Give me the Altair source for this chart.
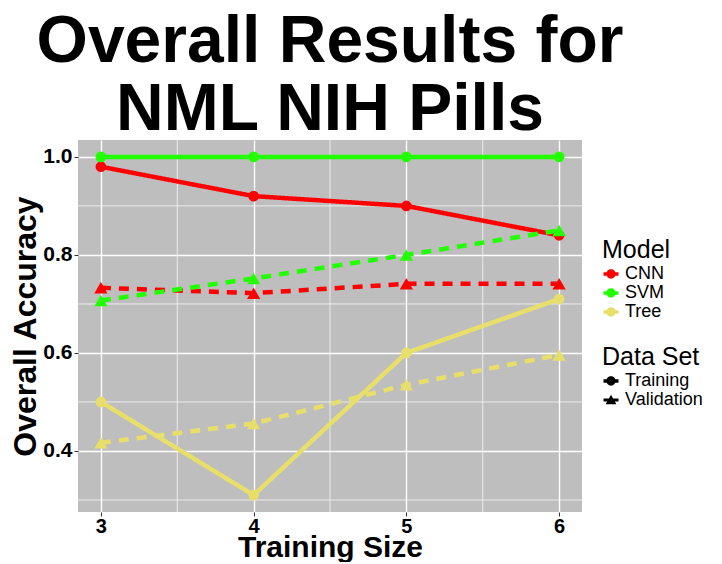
import altair as alt
import pandas as pd

sizes = [3, 4, 5, 6]
models = ["CNN", "SVM", "Tree"]
data_sets = ["Training", "Validation"]
cnn_train = [0.98, 0.92, 0.90, 0.84]
svm_train = [1.0, 1.0, 1.0, 1.0]
tree_train = [0.50, 0.31, 0.60, 0.71]
cnn_val = [0.733, 0.722, 0.741, 0.741]
svm_val = [0.707, 0.752, 0.80, 0.85]
tree_val = [0.417, 0.456, 0.535, 0.596]

x_major = [3, 4, 5, 6]
x_minor = [3.5, 4.5, 5.5]
y_major = [0.4, 0.6, 0.8, 1.0]
y_minor = [0.3, 0.5, 0.7, 0.9]

colors = ["#FF0000", "#22FF00", "#E8DF6A"]
FONT = "Liberation Sans"

series = {
    ("CNN", "Training"): cnn_train,
    ("SVM", "Training"): svm_train,
    ("Tree", "Training"): tree_train,
    ("CNN", "Validation"): cnn_val,
    ("SVM", "Validation"): svm_val,
    ("Tree", "Validation"): tree_val,
}
rows = []
for (m, d), vals in series.items():
    for s, v in zip(sizes, vals):
        rows.append({"Size": s, "Accuracy": v, "Model": m, "DataSet": d})
df = pd.DataFrame(rows)

xscale = alt.Scale(domain=[2.85, 6.15], nice=False, zero=False)
yscale = alt.Scale(domain=[0.2755, 1.0345], nice=False, zero=False)


def xaxis():
    return alt.Axis(values=x_major, format="d", title="Training Size",
                    titleFontSize=30, titleFontWeight="bold", titleFont=FONT,
                    labelFontSize=20, labelFontWeight="bold", labelFont=FONT,
                    labelColor="black", titleColor="black", tickColor="#333333",
                    tickSize=4, domain=False, grid=True, gridColor="white",
                    gridWidth=1.4, labelPadding=0, titlePadding=-4)


def yaxis():
    return alt.Axis(values=y_major, format=".1f", title="Overall Accuracy",
                    titleFontSize=32, titleFontWeight="bold", titleFont=FONT,
                    labelFontSize=21, labelFontWeight="bold", labelFont=FONT,
                    labelColor="black", titleColor="black", tickColor="#333333",
                    tickSize=4, domain=False, grid=True, gridColor="white",
                    gridWidth=1.4, labelPadding=2, titlePadding=0)


def X(field):
    return alt.X(field, type="quantitative", scale=xscale, axis=xaxis())


def Y(field):
    return alt.Y(field, type="quantitative", scale=yscale, axis=yaxis())


cscale = alt.Scale(domain=models, range=colors)

circle_path = "M -1 -0.22 L 1 -0.22 L 1 0.22 L -1 0.22 Z M -0.62 0 A 0.62 0.62 0 1 1 0.62 0 A 0.62 0.62 0 1 1 -0.62 0 Z"
tri_path = "M -1 -0.2 L 1 -0.2 L 1 0.2 L -1 0.2 Z M 0 -0.7 L 0.72 0.55 L -0.72 0.55 Z"

legend_common = dict(orient="none", legendX=524, symbolSize=225,
                     symbolStrokeWidth=0, symbolOpacity=1,
                     titleFontSize=25, titleFontWeight="normal", titleFont=FONT,
                     labelFontSize=18, labelFont=FONT, labelColor="black",
                     titleColor="black", titlePadding=2, rowPadding=1,
                     labelOffset=5, padding=0)

minor_y = alt.Chart(pd.DataFrame({"v": y_minor})).mark_rule(
    color="white", strokeWidth=0.7).encode(y=Y("v"))
minor_x = alt.Chart(pd.DataFrame({"v": x_minor})).mark_rule(
    color="white", strokeWidth=0.7).encode(x=X("v"))

lines = alt.Chart(df).mark_line(strokeWidth=4.5).encode(
    x=X("Size"), y=Y("Accuracy"),
    color=alt.Color("Model:N", scale=cscale, legend=None),
    strokeDash=alt.StrokeDash("DataSet:N", scale=alt.Scale(domain=data_sets, range=[[1, 0], [10, 8]]), legend=None),
)

pts_train = alt.Chart(df).transform_filter(alt.datum.DataSet == "Training").mark_point(
    filled=True, opacity=1, shape="circle", size=115).encode(
    x=X("Size"), y=Y("Accuracy"),
    color=alt.Color("Model:N", scale=cscale, title="Model",
                    legend=alt.Legend(legendY=98, symbolType=circle_path, **legend_common)),
)

pts_val = alt.Chart(df).transform_filter(alt.datum.DataSet == "Validation").mark_point(
    filled=True, opacity=1, shape="triangle-up", size=175).encode(
    x=X("Size"), y=Y("Accuracy"),
    color=alt.Color("Model:N", scale=cscale, legend=None),
)

legend_layer = alt.Chart(df).mark_point(filled=True, color="black", opacity=0).encode(
    x=X("Size"), y=Y("Accuracy"),
    shape=alt.Shape("DataSet:N", title="Data Set",
                    scale=alt.Scale(domain=data_sets, range=[circle_path, tri_path]),
                    legend=alt.Legend(legendY=205, symbolFillColor="black", **legend_common)),
)

chart = alt.layer(minor_y, minor_x, lines, pts_train, pts_val, legend_layer).resolve_legend(
    color="independent", shape="independent", strokeDash="independent"
).properties(
    width=504, height=372,
    padding={"left": 1, "top": 0, "right": 0, "bottom": 0},
    title=alt.Title(text=["Overall Results for", "NML NIH Pills"], fontSize=66,
                    fontWeight="bold", font=FONT, color="black", anchor="middle",
                    lineHeight=68, offset=-4),
).configure_view(fill="#BEBEBE", stroke=None)

chart.save("out.html", embed_options={"renderer": "svg", "actions": False})
